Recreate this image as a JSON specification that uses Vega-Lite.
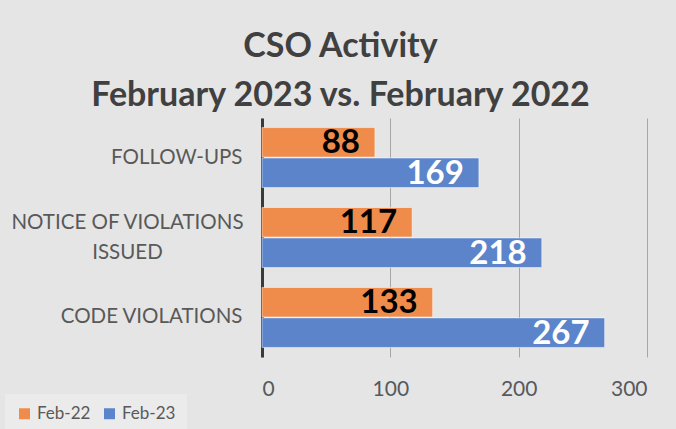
{
  "$schema": "https://vega.github.io/schema/vega-lite/v6.json",
  "autosize": {"type": "none"},
  "width": 385,
  "height": 239,
  "padding": {"left": 262, "top": 118, "right": 29, "bottom": 72},
  "background": "#e5e5e5",
  "title": {
    "text": ["CSO Activity", "February 2023 vs. February 2022"],
    "font": "Lato",
    "fontSize": 34,
    "fontWeight": "bold",
    "color": "#404040",
    "lineHeight": 49,
    "anchor": "middle",
    "frame": "group",
    "dx": -114,
    "offset": 5
  },
  "config": {
    "view": {"stroke": null},
    "font": "Lato"
  },
  "data": {
    "values": [
      {"category": "FOLLOW-UPS", "year": "Feb-22", "count": 88},
      {"category": "FOLLOW-UPS", "year": "Feb-23", "count": 169},
      {"category": "NOTICE OF VIOLATIONS ISSUED", "year": "Feb-22", "count": 117},
      {"category": "NOTICE OF VIOLATIONS ISSUED", "year": "Feb-23", "count": 218},
      {"category": "CODE VIOLATIONS", "year": "Feb-22", "count": 133},
      {"category": "CODE VIOLATIONS", "year": "Feb-23", "count": 267}
    ]
  },
  "encoding": {
    "y": {
      "field": "category",
      "type": "nominal",
      "sort": null,
      "scale": {"paddingInner": 0.25, "paddingOuter": 0.12},
      "axis": {
        "title": null,
        "ticks": false,
        "domainColor": "#3a3a3a",
        "domainWidth": 3,
        "labelFont": "Lato",
        "labelFontSize": 20.5,
        "labelColor": "#595959",
        "labelLimit": 300,
        "labelLineHeight": 30,
        "labelAlign": {"condition": {"test": "datum.value == 'NOTICE OF VIOLATIONS ISSUED'", "value": "center"}, "value": "right"},
        "labelPadding": {"condition": {"test": "datum.value == 'NOTICE OF VIOLATIONS ISSUED'", "value": 135}, "value": 20},
        "labelOffset": {"condition": {"test": "datum.value == 'NOTICE OF VIOLATIONS ISSUED'", "value": -15}, "value": 0},
        "labelExpr": "datum.value == 'NOTICE OF VIOLATIONS ISSUED' ? ['NOTICE OF VIOLATIONS', 'ISSUED'] : datum.value"
      }
    },
    "yOffset": {
      "field": "year",
      "type": "nominal",
      "scale": {"domain": ["Feb-22", "Feb-23"], "paddingInner": 0.03}
    },
    "x": {
      "field": "count",
      "type": "quantitative",
      "scale": {"domain": [0, 300]},
      "axis": {
        "title": null,
        "values": [0, 100, 200, 300],
        "domain": false,
        "ticks": false,
        "grid": true,
        "gridColor": "#a6a6a6",
        "gridWidth": 1,
        "labelFont": "Lato",
        "labelFontSize": 21,
        "labelColor": "#595959",
        "labelPadding": 21
      }
    }
  },
  "layer": [
    {
      "mark": {"type": "bar", "stroke": "#ffffff", "strokeOpacity": 0.5, "strokeWidth": 1},
      "encoding": {
        "color": {
          "field": "year",
          "type": "nominal",
          "scale": {"domain": ["Feb-22", "Feb-23"], "range": ["#ef8c4b", "#5b84ca"]},
          "legend": {
            "title": null,
            "orient": "none",
            "direction": "horizontal",
            "legendX": -257,
            "legendY": 276,
            "fillColor": "#ebebeb",
            "padding": 11,
            "symbolType": "square",
            "symbolSize": 121,
            "symbolStrokeWidth": 0,
            "labelFont": "Lato",
            "labelFontSize": 17,
            "labelColor": "#595959",
            "columnPadding": 10,
            "labelOffset": 4
          }
        }
      }
    },
    {
      "mark": {"type": "text", "align": "right", "baseline": "middle", "dx": -15, "dy": 1, "fontSize": 33, "fontWeight": "bold", "font": "Lato"},
      "encoding": {
        "text": {"field": "count", "type": "quantitative"},
        "color": {
          "condition": {"test": "datum.year === 'Feb-22'", "value": "#000000"},
          "value": "#ffffff"
        }
      }
    }
  ]
}
